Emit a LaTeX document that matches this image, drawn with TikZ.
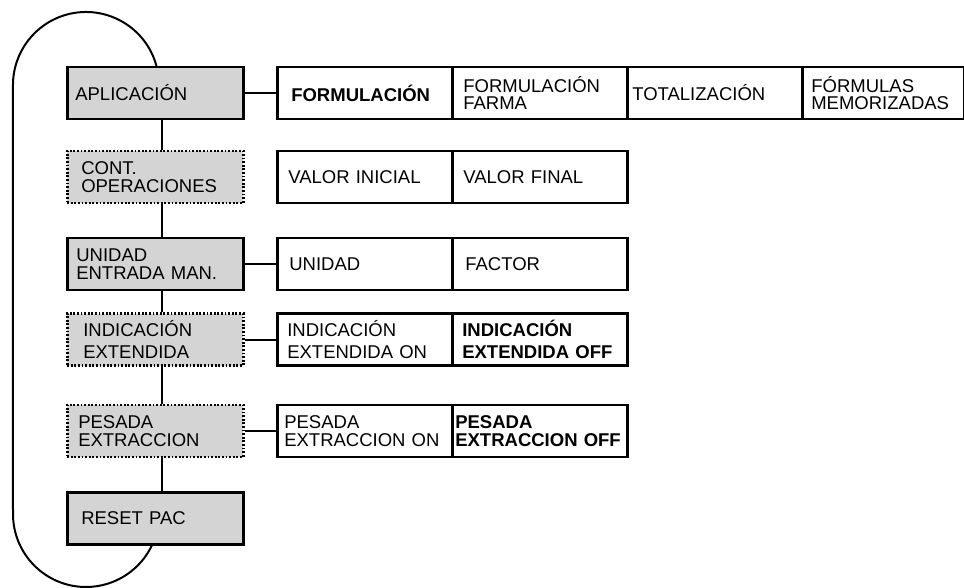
\documentclass[tikz,border=0pt]{standalone}
\usepackage{fontspec}
\setmainfont{Liberation Sans}
\definecolor{boxgray}{RGB}{212,212,212}
\tikzset{
  pad/.code 2 args={\pgfmathsetmacro\tw{#1-2*#2}\edef\tmp{\noexpand\tikzset{minimum width=#1pt,inner xsep=#2pt,text width=\tw pt}}\tmp},
  base/.style={draw=black, line width=2.6pt, rectangle, minimum height=52pt, align=left,
    font=\fontsize{18.5}{17.5}\selectfont, inner ysep=0pt, anchor=west},
  wide/.style={font=\fontsize{18.5}{21.5}\selectfont},
  lbox/.style={base, fill=boxgray},
  dotbox/.style={lbox, line width=2.5pt, dash pattern=on 1.8pt off 1.8pt},
  rbox/.style={base, fill=white},
  conn/.style={draw=black, line width=2pt},
  loopline/.style={draw=black, line width=2pt},
}
\begin{document}
\begin{tikzpicture}[x=1pt,y=-1pt]
\useasboundingbox (0,0) rectangle (964,588);
\coordinate (v) at (162,0);
\coordinate (loopstart) at (156.5,66.1);
% loop
\draw[loopline] (loopstart) arc[start angle=-15, end angle=-180, radius=73] -- (13,514)
  arc[start angle=180, end angle=24, radius=73];
% left column
\node[lbox, pad={176}{8}] (app) at (66,93) {APLICACIÓN};
\node[dotbox, pad={176}{14}] (cont) at (66,177) {CONT.\\OPERACIONES};
\node[lbox, pad={176}{9}] (unid) at (66,264) {UNIDAD\\ENTRADA MAN.};
\node[dotbox, wide, pad={176}{16}] (ind) at (66,339.5) {INDICACIÓN\\EXTENDIDA};
\node[dotbox, pad={176}{11}] (pes) at (66,431) {PESADA\\EXTRACCION};
\node[lbox, pad={176}{14}] (reset) at (66,518.5) {RESET PAC};
% row 1
\node[rbox, pad={175}{14}] (f1) at (276,93) {\bfseries FORMULACIÓN};
\node[rbox, pad={175}{11}] (f2) at (451,93) {FORMULACIÓN\\FARMA};
\node[rbox, pad={175}{5}] (f3) at (626,93) {TOTALIZACIÓN};
\node[rbox, pad={162}{9}] (f4) at (801,93) {FÓRMULAS\\MEMORIZADAS};
% row 2
\node[rbox, pad={175}{11}] (v1) at (276,177) {VALOR INICIAL};
\node[rbox, pad={175}{11}] (v2) at (451,177) {VALOR FINAL};
% row 3
\node[rbox, pad={175}{12}] (u1) at (276,264) {UNIDAD};
\node[rbox, pad={175}{13}] (u2) at (451,264) {FACTOR};
% row 4
\node[rbox, wide, pad={175}{10}] (i1) at (276,339.5) {INDICACIÓN\\EXTENDIDA ON};
\node[rbox, wide, pad={175}{10}] (i2) at (451,339.5) {\bfseries INDICACIÓN\\EXTENDIDA OFF};
% row 5
\node[rbox, pad={175}{7}] (p1) at (276,431) {PESADA\\EXTRACCION ON};
\node[rbox, pad={175}{3}] (p2) at (451,431) {\bfseries PESADA\\EXTRACCION OFF};
% vertical connectors
\draw[conn] (app.south -| v) -- (cont.north -| v);
\draw[conn] (cont.south -| v) -- (unid.north -| v);
\draw[conn] (unid.south -| v) -- (ind.north -| v);
\draw[conn] (ind.south -| v) -- (pes.north -| v);
\draw[conn] (pes.south -| v) -- (reset.north -| v);
% horizontal connectors
\draw[conn] (app.east) -- (f1.west);
\draw[conn] (unid.east) -- (u1.west);
\draw[conn] (ind.east) -- (i1.west);
\draw[conn] (pes.east) -- (p1.west);
\end{tikzpicture}
\end{document}
